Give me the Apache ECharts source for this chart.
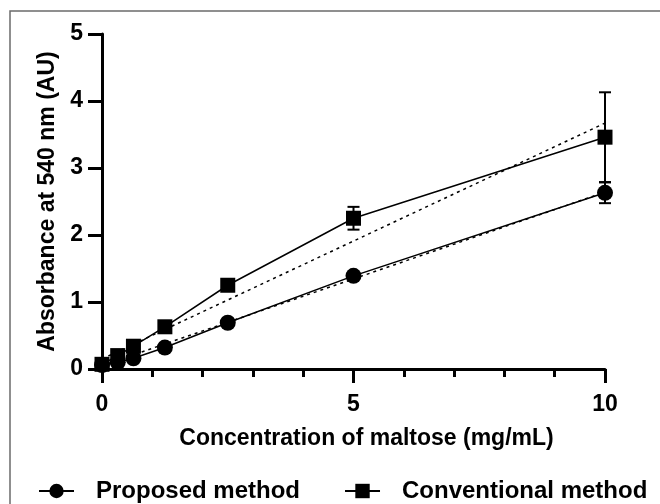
<!DOCTYPE html>
<html>
<head>
<meta charset="utf-8">
<script src="https://cdn.jsdelivr.net/npm/echarts@6/dist/echarts.min.js"></script>
<style>
  html, body { margin: 0; padding: 0; background: #fff; }
  #chart { width: 660px; height: 504px; }
</style>
</head>
<body>
<div id="chart"></div>
<script>
// maltose concentration (mg/mL)
var concentration = [0, 0.3125, 0.625, 1.25, 2.5, 5, 10];
// absorbance at 540 nm, mean values
var proposed = [0.06, 0.10, 0.16, 0.32, 0.69, 1.39, 2.63];
var conventional = [0.07, 0.20, 0.34, 0.63, 1.25, 2.25, 3.46];
// error bar half-widths (SD)
var proposedSd = [0, 0, 0, 0.02, 0.02, 0.04, 0.155];
var conventionalSd = [0, 0, 0, 0.03, 0.05, 0.17, 0.67];
// linear fit end points
var proposedFit = [[0, 0.05], [10, 2.64]];
var conventionalFit = [[0, 0.15], [10, 3.67]];
var xTicks = [0, 5, 10];
var yTicks = [0, 1, 2, 3, 4, 5];

var FONT = "'Liberation Sans', Arial, sans-serif";

function pairs(xs, ys) {
  var out = [];
  for (var i = 0; i < xs.length; i++) out.push([xs[i], ys[i]]);
  return out;
}
function errData(xs, ys, sd) {
  var out = [];
  for (var i = 0; i < xs.length; i++) {
    if (sd[i] > 0) out.push([xs[i], ys[i] - sd[i], ys[i] + sd[i]]);
  }
  return out;
}
function renderErr(params, api) {
  var x = api.value(0);
  var lo = api.coord([x, api.value(1)]);
  var hi = api.coord([x, api.value(2)]);
  var cap = 6;
  var st = { stroke: '#000', lineWidth: 2 };
  return {
    type: 'group',
    children: [
      { type: 'line', shape: { x1: lo[0], y1: lo[1], x2: hi[0], y2: hi[1] }, style: st },
      { type: 'line', shape: { x1: lo[0] - cap, y1: lo[1], x2: lo[0] + cap, y2: lo[1] }, style: st },
      { type: 'line', shape: { x1: hi[0] - cap, y1: hi[1], x2: hi[0] + cap, y2: hi[1] }, style: st }
    ]
  };
}

var chart = echarts.init(document.getElementById('chart'), null, { renderer: 'canvas' });

var option = {
  backgroundColor: '#fff',
  animation: false,
  textStyle: { fontFamily: FONT },
  graphic: [{
    type: 'rect',
    shape: { x: 10, y: 11, width: 700, height: 600 },
    style: { fill: 'none', stroke: '#6b6b6b', lineWidth: 1.5 },
    silent: true
  }],
  grid: { left: 102, right: 55, top: 34, bottom: 135 },
  legend: {
    left: 38,
    top: 479,
    padding: 0,
    itemWidth: 35,
    itemHeight: 18,
    itemGap: 44,
    data: ['Proposed method', 'Conventional method'],
    textStyle: { fontFamily: FONT, fontWeight: 'bold', fontSize: 24, color: '#000', padding: [0, 0, 0, 17] }
  },
  xAxis: {
    type: 'value',
    min: 0,
    max: 10,
    interval: 5,
    name: 'Concentration of maltose (mg/mL)',
    nameLocation: 'middle',
    nameGap: 58,
    nameTextStyle: { fontFamily: FONT, fontWeight: 'bold', fontSize: 23, color: '#000', padding: [0, 0, 0, 26] },
    axisLine: { show: true, lineStyle: { color: '#000', width: 3 } },
    axisTick: { show: true, length: 14, lineStyle: { color: '#000', width: 3 } },
    minorTick: { show: true, splitNumber: 5, length: 8, lineStyle: { color: '#000', width: 3 } },
    axisLabel: {
      margin: 24, fontFamily: FONT, fontWeight: 'bold', fontSize: 23, color: '#000',
      formatter: function (v) { return xTicks.indexOf(v) >= 0 ? String(v) : ''; }
    },
    splitLine: { show: false },
    minorSplitLine: { show: false }
  },
  yAxis: {
    type: 'value',
    min: 0,
    max: 5,
    interval: 1,
    name: 'Absorbance at 540 nm (AU)',
    nameLocation: 'middle',
    nameRotate: 90,
    nameGap: 36,
    nameTextStyle: { fontFamily: FONT, fontWeight: 'bold', fontSize: 23, color: '#000' },
    axisLine: { show: true, lineStyle: { color: '#000', width: 3 } },
    axisTick: { show: true, length: 14, lineStyle: { color: '#000', width: 3 } },
    axisLabel: {
      margin: 19, fontFamily: FONT, fontWeight: 'bold', fontSize: 23, color: '#000',
      formatter: function (v) { return yTicks.indexOf(v) >= 0 ? String(v) : ''; }
    },
    splitLine: { show: false }
  },
  series: [
    {
      name: 'Proposed fit',
      type: 'line',
      data: proposedFit,
      symbol: 'none',
      lineStyle: { color: '#000', width: 1.5, type: [3, 4] },
      z: 1,
      silent: true
    },
    {
      name: 'Conventional fit',
      type: 'line',
      data: conventionalFit,
      symbol: 'none',
      lineStyle: { color: '#000', width: 1.5, type: [3, 4] },
      z: 1,
      silent: true
    },
    {
      name: 'Proposed method',
      type: 'line',
      data: pairs(concentration, proposed),
      symbol: 'circle',
      symbolSize: 16,
      itemStyle: { color: '#000' },
      lineStyle: { color: '#000', width: 1.5 },
      z: 3
    },
    {
      name: 'Conventional method',
      type: 'line',
      data: pairs(concentration, conventional),
      symbol: 'rect',
      symbolSize: 15,
      itemStyle: { color: '#000' },
      lineStyle: { color: '#000', width: 1.5 },
      z: 3
    },
    {
      type: 'custom',
      renderItem: renderErr,
      data: errData(concentration, proposed, proposedSd),
      encode: { x: 0, y: [1, 2] },
      z: 4,
      silent: true
    },
    {
      type: 'custom',
      renderItem: renderErr,
      data: errData(concentration, conventional, conventionalSd),
      encode: { x: 0, y: [1, 2] },
      z: 4,
      silent: true
    }
  ]
};

chart.setOption(option);
window.addEventListener('resize', function () { chart.resize(); });
</script>
</body>
</html>
